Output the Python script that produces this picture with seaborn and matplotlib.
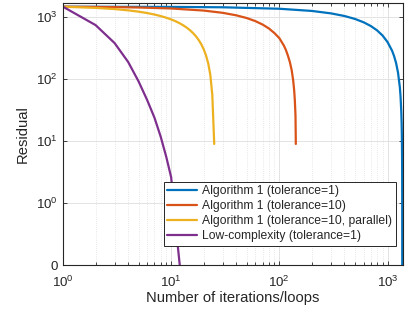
import numpy as np
import pandas as pd
import matplotlib
matplotlib.use("Agg")
import matplotlib.pyplot as plt
import seaborn as sns
from matplotlib.ticker import LogLocator, NullLocator, FixedLocator, NullFormatter

# ---- data ----
series_names = [
    "Algorithm 1 (tolerance=1)",
    "Algorithm 1 (tolerance=10)",
    "Algorithm 1 (tolerance=10, parallel)",
    "Low-complexity (tolerance=1)",
]
colors = ["#0072BD", "#D95319", "#EDB120", "#7E2F8E"]

alg1_tol1_iter = [1, 10, 30, 100, 200, 300, 400, 500, 600, 700, 800, 900, 1000,
                  1100, 1150, 1200, 1250, 1300, 1320, 1340, 1350, 1355, 1360,
                  1364, 1366, 1367, 1368]
alg1_tol1_res = [1480, 1470, 1450, 1373, 1265, 1156, 1048, 940, 831, 723, 615,
                 507, 398, 290, 236, 182, 128, 74, 52, 30, 19.5, 14, 8.7,
                 4.3, 2.2, 1.1, 0]

alg1_tol10_iter = [1, 3, 5, 10, 20, 30, 40, 50, 60, 70, 80, 90, 100, 110, 115,
                   120, 125, 130, 134, 137, 139, 141, 142]
alg1_tol10_res = [1480, 1459, 1438, 1387, 1283, 1179, 1075, 971, 867, 763, 660,
                  556, 460, 350, 296, 240, 190, 140, 98, 67, 46, 26, 9]

alg1_par_iter = list(range(1, 26))
alg1_par_res = [1480, 1418, 1356, 1294, 1232, 1170, 1108, 1046, 985, 923, 861,
                799, 737, 675, 613, 551, 489, 427, 365, 303, 241, 180, 118,
                56, 9]

lowc_iter = [1, 2, 3, 4, 5, 6, 7, 8, 9, 10, 11, 12]
lowc_res = [1480, 748, 383, 190, 92, 46, 24, 11.8, 5.6, 2.6, 0.44, 0]

y_ticks = [0.1, 1, 10, 100, 1000]
y_tick_labels = ["0", r"$\mathdefault{10^{0}}$", r"$\mathdefault{10^{1}}$",
                 r"$\mathdefault{10^{2}}$", r"$\mathdefault{10^{3}}$"]
zero_floor = 0.1  # the "0" tick position on the log axis

frames = []
for name, it, res in zip(series_names,
                         [alg1_tol1_iter, alg1_tol10_iter, alg1_par_iter, lowc_iter],
                         [alg1_tol1_res, alg1_tol10_res, alg1_par_res, lowc_res]):
    d = pd.DataFrame({"iter": it, "residual": res})
    d["series"] = name
    frames.append(d)
df = pd.concat(frames, ignore_index=True)
df["shown"] = df["residual"].where(df["residual"] > 0, zero_floor)

# ---- style ----
sns.set_style("ticks")
plt.rcParams["font.family"] = ["Liberation Sans", "DejaVu Sans"]
plt.rcParams["axes.edgecolor"] = "#262626"
plt.rcParams["xtick.color"] = "#262626"
plt.rcParams["ytick.color"] = "#262626"
plt.rcParams["text.color"] = "#262626"
plt.rcParams["axes.labelcolor"] = "#262626"

fig = plt.figure(figsize=(4.19, 3.16), dpi=100)
fig.subplots_adjust(left=63 / 419, right=403 / 419, top=1 - 3 / 316, bottom=1 - 265 / 316)
ax = fig.add_subplot(111)

sns.lineplot(data=df, x="iter", y="shown", hue="series", hue_order=series_names,
             palette=colors, estimator=None, sort=False, linewidth=1.6, ax=ax)

ax.set_xscale("log")
ax.set_yscale("log")
ax.set_xlim(1, 1390)
ax.set_ylim(0.1, 1700)

ax.yaxis.set_major_locator(FixedLocator(y_ticks))
ax.set_yticklabels(y_tick_labels)
ax.yaxis.set_minor_locator(NullLocator())
ax.xaxis.set_major_locator(LogLocator(base=10))
ax.xaxis.set_minor_locator(LogLocator(base=10, subs=np.arange(2, 10)))
ax.xaxis.set_minor_formatter(NullFormatter())

ax.grid(True, which="major", axis="both", color="#dedede", linewidth=0.6, linestyle="-")
ax.grid(True, which="minor", axis="x", color="#d4d4d4", linewidth=0.5,
        linestyle=(0, (1, 2)))
ax.set_axisbelow(True)

ax.tick_params(which="both", direction="in", top=True, right=True,
               labelsize=9.6, width=0.6)
ax.tick_params(which="major", length=3, pad=4)
ax.tick_params(which="minor", length=2)
ax.tick_params(axis="x", which="major", pad=7)
for s in ax.spines.values():
    s.set_linewidth(0.8)
    s.set_color("#262626")

ax.set_xlabel("Number of iterations/loops", fontsize=10.6, labelpad=1)
ax.set_ylabel("Residual", fontsize=10.6, labelpad=4)

handles, labels = ax.get_legend_handles_labels()
leg = ax.legend(handles, labels, loc="lower right", bbox_to_anchor=(0.979, 0.0725),
                borderaxespad=0, fontsize=8.7, frameon=True, fancybox=False,
                framealpha=1, edgecolor="#262626", handlelength=2.5,
                handletextpad=0.4, labelspacing=0.25, borderpad=0.3)
leg.get_frame().set_linewidth(0.7)

fig.savefig("out.png", dpi=100)
